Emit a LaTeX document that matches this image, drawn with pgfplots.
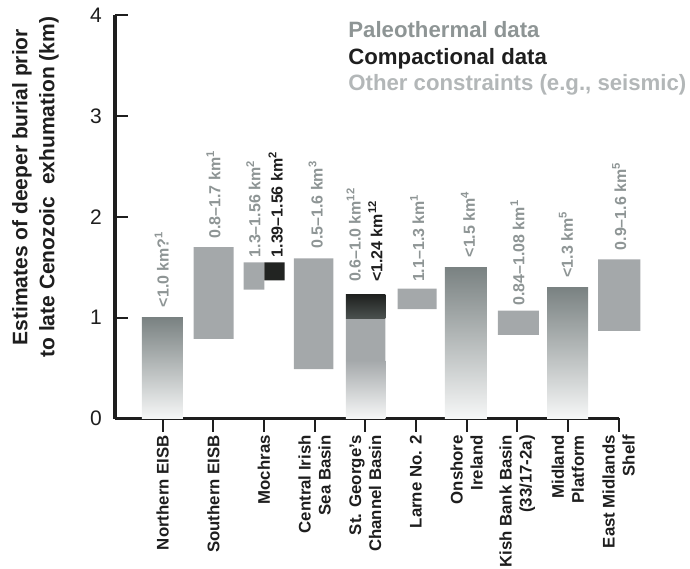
\documentclass[border=0pt]{standalone}
\usepackage{fontspec}
\setmainfont{Liberation Sans}
\usepackage{pgfplots}
\pgfplotsset{compat=1.18}
\definecolor{axc}{HTML}{1E1E1E}
\definecolor{lblgray}{HTML}{8E9595}
\definecolor{othergray}{HTML}{B3B7B8}
\definecolor{bargray}{HTML}{A4A8AA}
\definecolor{gtop}{HTML}{7A8282}
\definecolor{gbot}{HTML}{F6F7F7}
\definecolor{blk}{HTML}{222422}
\definecolor{btop}{HTML}{1F211F}
\definecolor{bbot}{HTML}{4B514F}
\newcommand{\lblfont}{\fontsize{16bp}{19bp}\selectfont\bfseries}
\newcommand{\legfont}{\fontsize{22.2bp}{26bp}\selectfont\bfseries}
\begin{document}
\begin{tikzpicture}
\useasboundingbox (-115bp,-150bp) rectangle (575bp,418.5bp);
\begin{axis}[
  at={(0,0)}, anchor=south west,
  scale only axis, width=503.5bp, height=403bp,
  xmin=-0.94, xmax=9, ymin=0, ymax=4,
  axis lines=left,
  axis line style={-, line width=3.2bp, color=axc},
  clip=false,
  no markers,
  xtick={0,1,2,3,4,5,6,7,8,9},
  xticklabels={Northern EISB, Southern EISB, Mochras, {Central Irish\\Sea Basin}, {St. George’s\\Channel Basin}, Larne No. 2, {Onshore\\Ireland}, {Kish Bank Basin\\(33/17-2a)}, {Midland\\Platform}, {East Midlands\\Shelf}},
  ytick={0,1,2,3,4},
  tick align=inside,
  major tick length=13bp,
  tick style={line width=2bp, color=axc},
  xtick style={yshift=-13bp},
  xticklabel style={rotate=90, anchor=east, align=right, font=\fontsize{16.8bp}{20bp}\selectfont\bfseries, inner sep=0pt, text=axc},
  xticklabel shift=16.5bp,
  yticklabel style={font=\fontsize{21bp}{25bp}\selectfont, inner sep=0pt, text=axc},
  yticklabel shift=13bp,
  /pgf/number format/assume math mode=true,
  ylabel={Estimates of deeper burial prior\\to late Cenozoic~ exhumation (km)},
  ylabel style={at={(axis description cs:-0.158,0.574)}, anchor=center, align=center, font=\fontsize{21bp}{27bp}\selectfont\bfseries, text=axc},
]
% Northern EISB (paleothermal, gradient)
\addplot[draw=none, top color=gtop, bottom color=gbot] coordinates {(-0.41,0) (0.40,0) (0.40,1.0) (-0.41,1.0) (-0.41,0)};
% Southern EISB
\addplot[draw=none, fill=bargray] coordinates {(0.61,0.79) (1.40,0.79) (1.40,1.70) (0.61,1.70) (0.61,0.79)};
% Mochras
\addplot[draw=none, fill=bargray] coordinates {(1.60,1.28) (2.01,1.28) (2.01,1.55) (1.60,1.55) (1.60,1.28)};
\addplot[draw=none, fill=blk] coordinates {(2.01,1.37) (2.41,1.37) (2.41,1.55) (2.01,1.55) (2.01,1.37)};
% Central Irish Sea Basin
\addplot[draw=none, fill=bargray] coordinates {(2.59,0.49) (3.37,0.49) (3.37,1.59) (2.59,1.59) (2.59,0.49)};
% St George's Channel Basin
\addplot[draw=none, top color=bargray, bottom color=gbot] coordinates {(3.62,0) (4.40,0) (4.40,0.58) (3.62,0.58) (3.62,0)};
\addplot[draw=none, fill=bargray] coordinates {(3.62,0.58) (4.40,0.58) (4.40,0.99) (3.62,0.99) (3.62,0.58)};
\addplot[draw=none, top color=btop, bottom color=bbot] coordinates {(3.62,0.99) (4.40,0.99) (4.40,1.23) (3.62,1.23) (3.62,0.99)};
% Larne No. 2
\addplot[draw=none, fill=bargray] coordinates {(4.64,1.085) (5.41,1.085) (5.41,1.29) (4.64,1.29) (4.64,1.085)};
% Onshore Ireland
\addplot[draw=none, top color=gtop, bottom color=gbot] coordinates {(5.57,0) (6.40,0) (6.40,1.50) (5.57,1.50) (5.57,0)};
% Kish Bank Basin
\addplot[draw=none, fill=bargray] coordinates {(6.62,0.83) (7.43,0.83) (7.43,1.07) (6.62,1.07) (6.62,0.83)};
% Midland Platform
\addplot[draw=none, top color=gtop, bottom color=gbot] coordinates {(7.59,0) (8.40,0) (8.40,1.30) (7.59,1.30) (7.59,0)};
% East Midlands Shelf
\addplot[draw=none, fill=bargray] coordinates {(8.60,0.87) (9.43,0.87) (9.43,1.58) (8.60,1.58) (8.60,0.87)};

% value labels
\begin{scope}[every node/.style={rotate=90, anchor=base west, inner sep=0pt, outer sep=0pt, font=\lblfont, text=lblgray}]
\node at (axis cs:0.12,1.105) {<1.0 km?\textsuperscript{1}};
\node at (axis cs:1.14,1.785) {0.8–1.7 km\textsuperscript{1}};
\node at (axis cs:1.93,1.60) {1.3–1.56 km\textsuperscript{2}};
\node[text=axc] at (axis cs:2.37,1.60) {1.39–1.56 km\textsuperscript{2}};
\node at (axis cs:3.16,1.685) {0.5–1.6 km\textsuperscript{3}};
\node at (axis cs:3.91,1.355) {0.6–1.0 km\textsuperscript{12}};
\node[text=axc] at (axis cs:4.34,1.355) {<1.24 km\textsuperscript{12}};
\node at (axis cs:5.165,1.355) {1.1–1.3 km\textsuperscript{1}};
\node at (axis cs:6.165,1.60) {<1.5 km\textsuperscript{4}};
\node at (axis cs:7.14,1.12) {0.84–1.08 km\textsuperscript{1}};
\node at (axis cs:8.10,1.40) {<1.3 km\textsuperscript{5}};
\node at (axis cs:9.15,1.67) {0.9–1.6 km\textsuperscript{5}};
\end{scope}

% legend
\node[anchor=base west, inner sep=0pt, font=\legfont, text=lblgray] at (axis cs:3.663,3.784) {Paleothermal data};
\node[anchor=base west, inner sep=0pt, font=\legfont, text=axc] at (axis cs:3.663,3.516) {Compactional data};
\node[anchor=base west, inner sep=0pt, font=\legfont, text=othergray] at (axis cs:3.663,3.254) {Other constraints (e.g., seismic)};
\end{axis}
\end{tikzpicture}
\end{document}
